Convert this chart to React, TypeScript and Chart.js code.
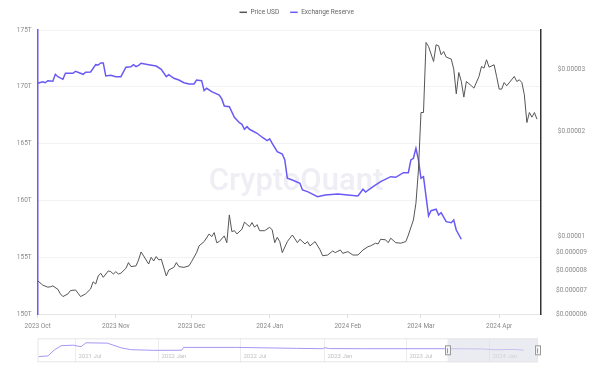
import React, { useEffect, useRef } from "react";
import { Chart, registerables } from "chart.js";

Chart.register(...registerables);

// ---------- data ----------
// Day offsets are days since START_DATE (2023-10-01)
const START_DATE = "2023-10-01";
const legendLabels = ["Price USD", "Exchange Reserve"];
const monthTickDays = [0, 31, 61, 92, 123, 152, 183];
const monthTickLabels = ["2023 Oct", "2023 Nov", "2023 Dec", "2024 Jan", "2024 Feb", "2024 Mar", "2024 Apr"];
const reserveTicks = [150, 155, 160, 165, 170, 175];
const priceTicks = [0.000006, 0.000007, 0.000008, 0.000009, 0.00001, 0.00002, 0.00003];

const reserveDays = [0, 2, 3, 4, 6, 7, 8, 10, 11, 14, 15, 18, 19, 21, 23, 24, 25, 26, 27, 29, 31, 33, 35, 37, 38, 39, 40, 41, 44, 47, 49, 51, 52, 54, 56, 58, 60, 62, 63, 65, 66, 67, 69, 72, 73, 74, 76, 78, 80, 81, 82, 83, 84, 87, 89, 91, 92, 93, 95, 97, 98, 99, 101, 104, 105, 107, 111, 114, 119, 123, 127, 129, 130, 133, 136, 140, 142, 145, 147, 148, 149, 150, 151, 152, 153, 155, 156, 158, 159, 160, 162, 164, 165, 166, 168];
const reserveT = [170.31, 170.45, 170.36, 170.54, 170.49, 171.1, 170.89, 170.66, 171.19, 171.19, 171.37, 171.1, 171.28, 171.3, 171.95, 171.92, 172.1, 172.1, 170.95, 171.01, 170.89, 170.89, 171.72, 171.77, 171.95, 171.77, 171.89, 172.07, 171.95, 171.83, 171.54, 170.89, 171.07, 170.75, 170.6, 170.36, 170.25, 170.25, 170.6, 170.54, 169.66, 169.87, 169.57, 169.28, 168.93, 168.31, 168.25, 167.32, 166.84, 166.7, 166.26, 166.49, 166.26, 165.91, 165.56, 165.26, 165.41, 165.03, 164.29, 164.08, 163.55, 161.95, 161.8, 161.51, 160.92, 160.77, 160.33, 160.48, 160.56, 160.48, 160.39, 160.98, 160.74, 161.21, 161.65, 162.09, 162.03, 162.44, 162.44, 163.56, 163.71, 164.59, 163.56, 161.95, 162.09, 158.63, 159.09, 159.22, 158.72, 158.92, 158.13, 158.04, 158.27, 157.39, 156.58];

const priceDays = [0, 2, 4, 5, 6, 8, 9, 10, 12, 13, 15, 16, 17, 19, 21, 22, 23, 24, 25, 26, 28, 29, 30, 31, 32, 33, 35, 36, 37, 39, 40, 41, 42, 44, 45, 46, 47, 48, 49, 51, 52, 54, 55, 56, 58, 60, 61, 63, 64, 66, 68, 69, 70, 71, 72, 74, 75, 76, 77, 78, 79, 81, 82, 84, 85, 86, 87, 88, 90, 92, 93, 94, 95, 96, 97, 99, 100, 101, 103, 104, 106, 107, 108, 110, 112, 113, 115, 117, 118, 120, 121, 123, 125, 127, 129, 131, 132, 134, 135, 136, 138, 139, 140, 142, 144, 146, 147, 149, 150, 151, 152, 153, 154, 155, 157, 158, 159, 160, 161, 162, 164, 165, 166, 167, 168, 169, 170, 172, 173, 175, 176, 177, 178, 179, 181, 182, 183, 184, 185, 186, 189, 190, 191, 192, 193, 194, 195, 196, 197, 198];
const priceUsd = [7.47e-6, 7.26e-6, 7.16e-6, 7.18e-6, 7.22e-6, 7.06e-6, 6.85e-6, 6.73e-6, 6.85e-6, 7.0e-6, 7.03e-6, 6.88e-6, 6.73e-6, 6.85e-6, 7.08e-6, 7.42e-6, 7.31e-6, 7.71e-6, 7.85e-6, 7.64e-6, 7.97e-6, 7.93e-6, 7.81e-6, 7.93e-6, 7.81e-6, 7.85e-6, 8.11e-6, 8.42e-6, 8.2e-6, 8.24e-6, 8.57e-6, 9.03e-6, 8.8e-6, 8.34e-6, 8.72e-6, 8.51e-6, 8.76e-6, 8.57e-6, 8.61e-6, 7.71e-6, 8.02e-6, 8.16e-6, 8.42e-6, 8.2e-6, 8.16e-6, 8.24e-6, 8.47e-6, 8.99e-6, 9.4e-6, 9.67e-6, 10.17e-6, 9.99e-6, 10.26e-6, 9.6e-6, 9.67e-6, 10.04e-6, 9.6e-6, 11.53e-6, 10.33e-6, 10.39e-6, 10.17e-6, 10.49e-6, 10.99e-6, 10.67e-6, 10.96e-6, 10.63e-6, 10.81e-6, 10.39e-6, 10.39e-6, 10.63e-6, 10.44e-6, 9.6e-6, 9.95e-6, 9.67e-6, 8.99e-6, 9.67e-6, 9.89e-6, 10.1e-6, 9.6e-6, 9.82e-6, 9.52e-6, 9.67e-6, 9.4e-6, 9.67e-6, 9.15e-6, 8.81e-6, 8.85e-6, 9.09e-6, 8.99e-6, 9.15e-6, 8.95e-6, 9.05e-6, 8.85e-6, 8.85e-6, 9.15e-6, 9.35e-6, 9.4e-6, 9.57e-6, 9.52e-6, 9.82e-6, 9.78e-6, 9.6e-6, 9.89e-6, 9.6e-6, 9.57e-6, 9.67e-6, 10.1e-6, 11.15e-6, 12.45e-6, 15.51e-6, 22.64e-6, 22.64e-6, 35.92e-6, 34.99e-6, 31.69e-6, 35.38e-6, 35.15e-6, 33.12e-6, 33.85e-6, 32.62e-6, 32.2e-6, 30.14e-6, 25.61e-6, 29.47e-6, 27.77e-6, 25.06e-6, 27.77e-6, 27.0e-6, 26.59e-6, 28.71e-6, 30.66e-6, 30.34e-6, 32.05e-6, 30.53e-6, 31.01e-6, 28.71e-6, 26.42e-6, 26.42e-6, 27.59e-6, 27.0e-6, 28.71e-6, 27.77e-6, 28.09e-6, 27.59e-6, 25.44e-6, 21.19e-6, 22.64e-6, 21.96e-6, 22.64e-6, 21.67e-6];

// navigator (full history of exchange reserve, T)
const navDates = ["2021-04-12", "2021-05-03", "2021-05-17", "2021-06-01", "2021-06-27", "2021-07-15", "2021-07-26", "2021-09-11", "2021-10-11", "2021-11-01", "2021-12-22", "2022-02-22", "2022-02-26", "2022-06-23", "2022-11-02", "2022-12-29", "2023-01-04", "2023-01-14", "2023-03-27", "2023-10-01", "2023-12-15", "2024-01-15", "2024-02-28", "2024-03-17"];
const navReserveT = [103, 109, 159, 195, 200, 187, 220, 217, 178, 162, 156, 157, 181, 181, 173, 170, 178, 171, 170, 170, 168, 161, 164, 157];
const navTickDates = ["2021-07-01", "2022-01-01", "2022-07-01", "2023-01-01", "2023-07-01", "2024-01-01"];
const navTickLabels = ["2021 Jul", "2022 Jan", "2022 Jul", "2023 Jan", "2023 Jul", "2024 Jan"];
const navStartDate = "2021-04-10";
const watermarkText = "CryptoQuant";

// ---------- styling ----------
const PRICE_COLOR = "#555555";
const RESERVE_COLOR = "#6a5af5";
const NAV_LINE_COLOR = "#a497f6";
const FONT = "Roboto, 'Noto Sans', sans-serif";
const X_MAX = 199.6;

function dayOf(s: string): number {
  const [y, m, d] = s.split("-").map(Number);
  const [sy, sm, sd] = START_DATE.split("-").map(Number);
  return (Date.UTC(y, m - 1, d) - Date.UTC(sy, sm - 1, sd)) / 86400000;
}

function fmtPrice(v: number): string {
  return "$" + v.toFixed(6).replace(/0+$/, "");
}

const watermarkPlugin = {
  id: "watermark",
  beforeDatasetsDraw(chart: any) {
    const ctx = chart.ctx;
    ctx.save();
    ctx.font = `500 31px ${FONT}`;
    ctx.fillStyle = "#eeeef4";
    ctx.textAlign = "center";
    ctx.textBaseline = "alphabetic";
    ctx.fillText(watermarkText, 296, 190);
    ctx.restore();
  },
};

const legendPlugin = {
  id: "customLegend",
  afterDraw(chart: any) {
    const ctx = chart.ctx;
    ctx.save();
    ctx.font = `6.5px ${FONT}`;
    const colors = [PRICE_COLOR, RESERVE_COLOR];
    const sw = 7.5, g1 = 3.5, g2 = 11;
    const widths = legendLabels.map((l) => sw + g1 + ctx.measureText(l).width);
    const total = widths[0] + g2 + widths[1];
    let x = 296.7 - total / 2;
    const y = 12.3;
    legendLabels.forEach((l, i) => {
      ctx.strokeStyle = colors[i];
      ctx.lineWidth = 1.5;
      ctx.beginPath();
      ctx.moveTo(x, y);
      ctx.lineTo(x + sw, y);
      ctx.stroke();
      ctx.fillStyle = "#666";
      ctx.textAlign = "left";
      ctx.textBaseline = "middle";
      ctx.fillText(l, x + sw + g1, y);
      x += widths[i] + g2;
    });
    ctx.restore();
  },
};

const navPlugin = {
  id: "navDecor",
  beforeDatasetsDraw(chart: any) {
    const { ctx, chartArea } = chart;
    const xs = chart.scales.x;
    ctx.save();
    ctx.strokeStyle = "#ececec";
    ctx.lineWidth = 1;
    ctx.font = `6px ${FONT}`;
    ctx.fillStyle = "#c2c2c2";
    ctx.textAlign = "left";
    ctx.textBaseline = "middle";
    navTickDates.forEach((d, i) => {
      const px = Math.round(xs.getPixelForValue(dayOf(d))) + 0.5;
      ctx.beginPath();
      ctx.moveTo(px, chartArea.top);
      ctx.lineTo(px, chartArea.bottom);
      ctx.stroke();
      ctx.fillText(navTickLabels[i], px + 3, chartArea.top + 18.4);
    });
    ctx.restore();
  },
  afterDatasetsDraw(chart: any) {
    const { ctx, chartArea } = chart;
    const xs = chart.scales.x;
    ctx.save();
    const sx = xs.getPixelForValue(0);
    ctx.fillStyle = "rgba(222,222,234,0.6)";
    ctx.fillRect(sx, chartArea.top, chartArea.right - sx, chartArea.bottom - chartArea.top);
    ctx.strokeStyle = "#e6e6e6";
    ctx.lineWidth = 1;
    ctx.strokeRect(chartArea.left + 0.5, chartArea.top + 0.5, chartArea.right - chartArea.left - 1, chartArea.bottom - chartArea.top - 1);
    const cy = chartArea.top + 12;
    [sx, chartArea.right - 1].forEach((hx) => {
      ctx.fillStyle = "#f5f5f5";
      ctx.strokeStyle = "#999";
      ctx.fillRect(hx - 2.5, cy - 5, 5, 10);
      ctx.strokeRect(Math.round(hx - 2.5) + 0.5, cy - 5 + 0.5, 5, 9);
      ctx.beginPath();
      ctx.moveTo(Math.round(hx) + 0.5, cy - 2);
      ctx.lineTo(Math.round(hx) + 0.5, cy + 3);
      ctx.stroke();
    });
    ctx.restore();
  },
};

export default function App() {
  const mainRef = useRef<HTMLCanvasElement>(null);
  const navRef = useRef<HTMLCanvasElement>(null);

  useEffect(() => {
    document.body.style.margin = "0";
    const priceData = priceDays.map((d, i) => ({ x: d, y: priceUsd[i] }));
    const reserveData = reserveDays.map((d, i) => ({ x: d, y: reserveT[i] }));
    const tickFont = { family: FONT, size: 6.5 };

    const main = new Chart(mainRef.current!, {
      type: "line",
      data: {
        datasets: [
          {
            label: legendLabels[0],
            data: priceData,
            yAxisID: "y1",
            borderColor: PRICE_COLOR,
            borderWidth: 1,
            pointRadius: 0,
            tension: 0,
          },
          {
            label: legendLabels[1],
            data: reserveData,
            yAxisID: "y",
            borderColor: RESERVE_COLOR,
            borderWidth: 1.5,
            pointRadius: 0,
            tension: 0,
          },
        ],
      },
      options: {
        animation: false,
        responsive: false,
        maintainAspectRatio: false,
        layout: { padding: { top: 30, left: 0, right: 0, bottom: 0 } },
        plugins: { legend: { display: false }, tooltip: { enabled: false } },
        scales: {
          x: {
            type: "linear",
            min: 0,
            max: X_MAX,
            afterBuildTicks: (s: any) => {
              s.ticks = monthTickDays.map((v) => ({ value: v }));
            },
            afterFit: (s: any) => {
              s.height = 20;
            },
            ticks: {
              autoSkip: false,
              maxRotation: 0,
              padding: 4.5,
              color: "#8a8a8a",
              font: tickFont,
              callback: (v: any) => monthTickLabels[monthTickDays.indexOf(Number(v))] ?? "",
            },
            grid: { drawOnChartArea: false, drawTicks: true, tickLength: 4, color: "#dddddd" },
            border: { color: "#e6e6e6", width: 1 },
          },
          y: {
            type: "linear",
            position: "left",
            min: 150,
            max: 175,
            afterBuildTicks: (s: any) => {
              s.ticks = reserveTicks.map((v) => ({ value: v }));
            },
            afterFit: (s: any) => {
              s.width = 37.7;
            },
            ticks: {
              padding: 6,
              color: "#8a8a8a",
              font: tickFont,
              callback: (v: any) => v + "T",
            },
            grid: { color: "#f2f2f2", drawTicks: false },
            border: { color: RESERVE_COLOR, width: 1.5 },
          },
          y1: {
            type: "logarithmic",
            position: "right",
            min: 0.000006,
            max: 0.0000390,
            afterBuildTicks: (s: any) => {
              s.ticks = priceTicks.map((v) => ({ value: v }));
            },
            afterFit: (s: any) => {
              s.width = 59;
            },
            ticks: {
              padding: 15,
              crossAlign: "center",
              color: "#8a8a8a",
              font: tickFont,
              callback: (v: any) => fmtPrice(Number(v)),
            },
            grid: { drawOnChartArea: false, drawTicks: false },
            border: { color: "#333333", width: 1.5 },
          },
        },
      } as any,
      plugins: [watermarkPlugin, legendPlugin],
    });

    const navData = navDates.map((d, i) => ({ x: dayOf(d), y: navReserveT[i] }));
    const nav = new Chart(navRef.current!, {
      type: "line",
      data: {
        datasets: [
          {
            data: navData,
            borderColor: NAV_LINE_COLOR,
            borderWidth: 1,
            pointRadius: 0,
            tension: 0,
          },
        ],
      },
      options: {
        animation: false,
        responsive: false,
        maintainAspectRatio: false,
        layout: { padding: { left: 37.5, right: 62, top: 4.3, bottom: 5.7 } },
        plugins: { legend: { display: false }, tooltip: { enabled: false } },
        scales: {
          x: { type: "linear", display: false, min: dayOf(navStartDate), max: X_MAX },
          y: { type: "linear", display: false, min: 55, max: 258 },
        },
      } as any,
      plugins: [navPlugin],
    });

    return () => {
      main.destroy();
      nav.destroy();
    };
  }, []);

  return (
    <div style={{ position: "absolute", left: 0, top: 0, width: 600, height: 368, background: "#fff", overflow: "hidden" }}>
      <canvas ref={mainRef} width={600} height={334} style={{ position: "absolute", left: 0, top: 0, width: 600, height: 334 }} />
      <canvas ref={navRef} width={600} height={34} style={{ position: "absolute", left: 0, top: 334, width: 600, height: 34 }} />
    </div>
  );
}
